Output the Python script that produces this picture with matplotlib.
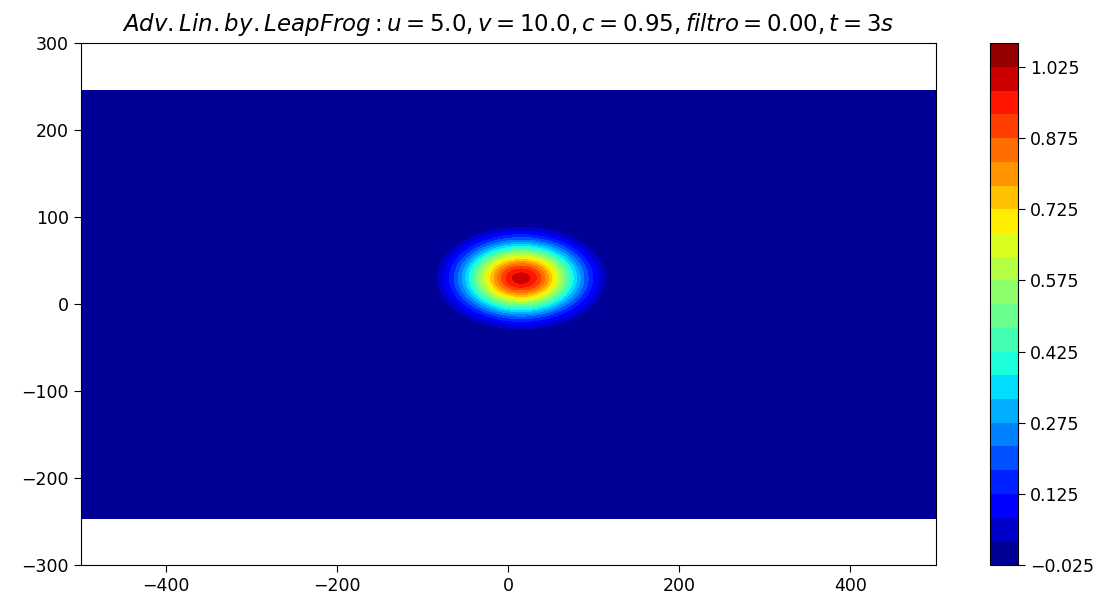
import numpy as np
import matplotlib
matplotlib.use("Agg")
import matplotlib.pyplot as plt

# Simulation parameters
u_speed = 5.0
v_speed = 10.0
courant = 0.95
filtro = 0.00
t_final = 3.0

# Domain extents
x_limits = [-500.0, 500.0]
y_limits = [-246.0, 246.0]
n_x = 401
n_y = 201

# Pulse shape after advection (peak, widths, base offset)
amplitude = 1.0
sigma_x = 47.0
sigma_y = 28.0
base_offset = 0.1
x_start = 0.0
y_start = 0.0

# Contour levels and colorbar ticks
levels = np.arange(-0.025, 1.0751, 0.05)
cbar_ticks = [-0.025, 0.125, 0.275, 0.425, 0.575, 0.725, 0.875, 1.025]

x = np.linspace(x_limits[0], x_limits[1], n_x)
y = np.linspace(y_limits[0], y_limits[1], n_y)
X, Y = np.meshgrid(x, y)
xc = x_start + u_speed * t_final
yc = y_start + v_speed * t_final
g = np.exp(-((X - xc) ** 2 / (2 * sigma_x ** 2) + (Y - yc) ** 2 / (2 * sigma_y ** 2)))
Z = np.clip((amplitude + base_offset) * g - base_offset, 0.0, None)

fig = plt.figure(figsize=(11.16, 5.97), dpi=100)
ax = fig.add_axes([80.7 / 1116, 1 - 565 / 597, (936 - 80.7) / 1116, (565 - 43.3) / 597])
cax = fig.add_axes([990 / 1116, 1 - 565 / 597, 28 / 1116, (565 - 43.3) / 597])

cs = ax.contourf(X, Y, Z, levels=levels, cmap="jet")
ax.set_xlim(-500, 500)
ax.set_ylim(-300, 300)
ax.set_xticks([-400, -200, 0, 200, 400])
ax.set_yticks([-300, -200, -100, 0, 100, 200, 300])
ax.tick_params(labelsize=12.5, length=5)

title = (r"$Adv.Lin.by.LeapFrog: u = %.1f, v = %.1f, c = %.2f, filtro = %.2f, t = %ds$"
         % (u_speed, v_speed, courant, filtro, t_final))
ax.set_title(title, fontsize=16.5, pad=9)

cb = fig.colorbar(cs, cax=cax, ticks=cbar_ticks)
cb.ax.set_yticklabels(["%.3f" % t if t >= 0 else "\u2212%.3f" % abs(t) for t in cbar_ticks])
cb.ax.tick_params(labelsize=12.5, length=5)

fig.savefig("out.png", dpi=100)
